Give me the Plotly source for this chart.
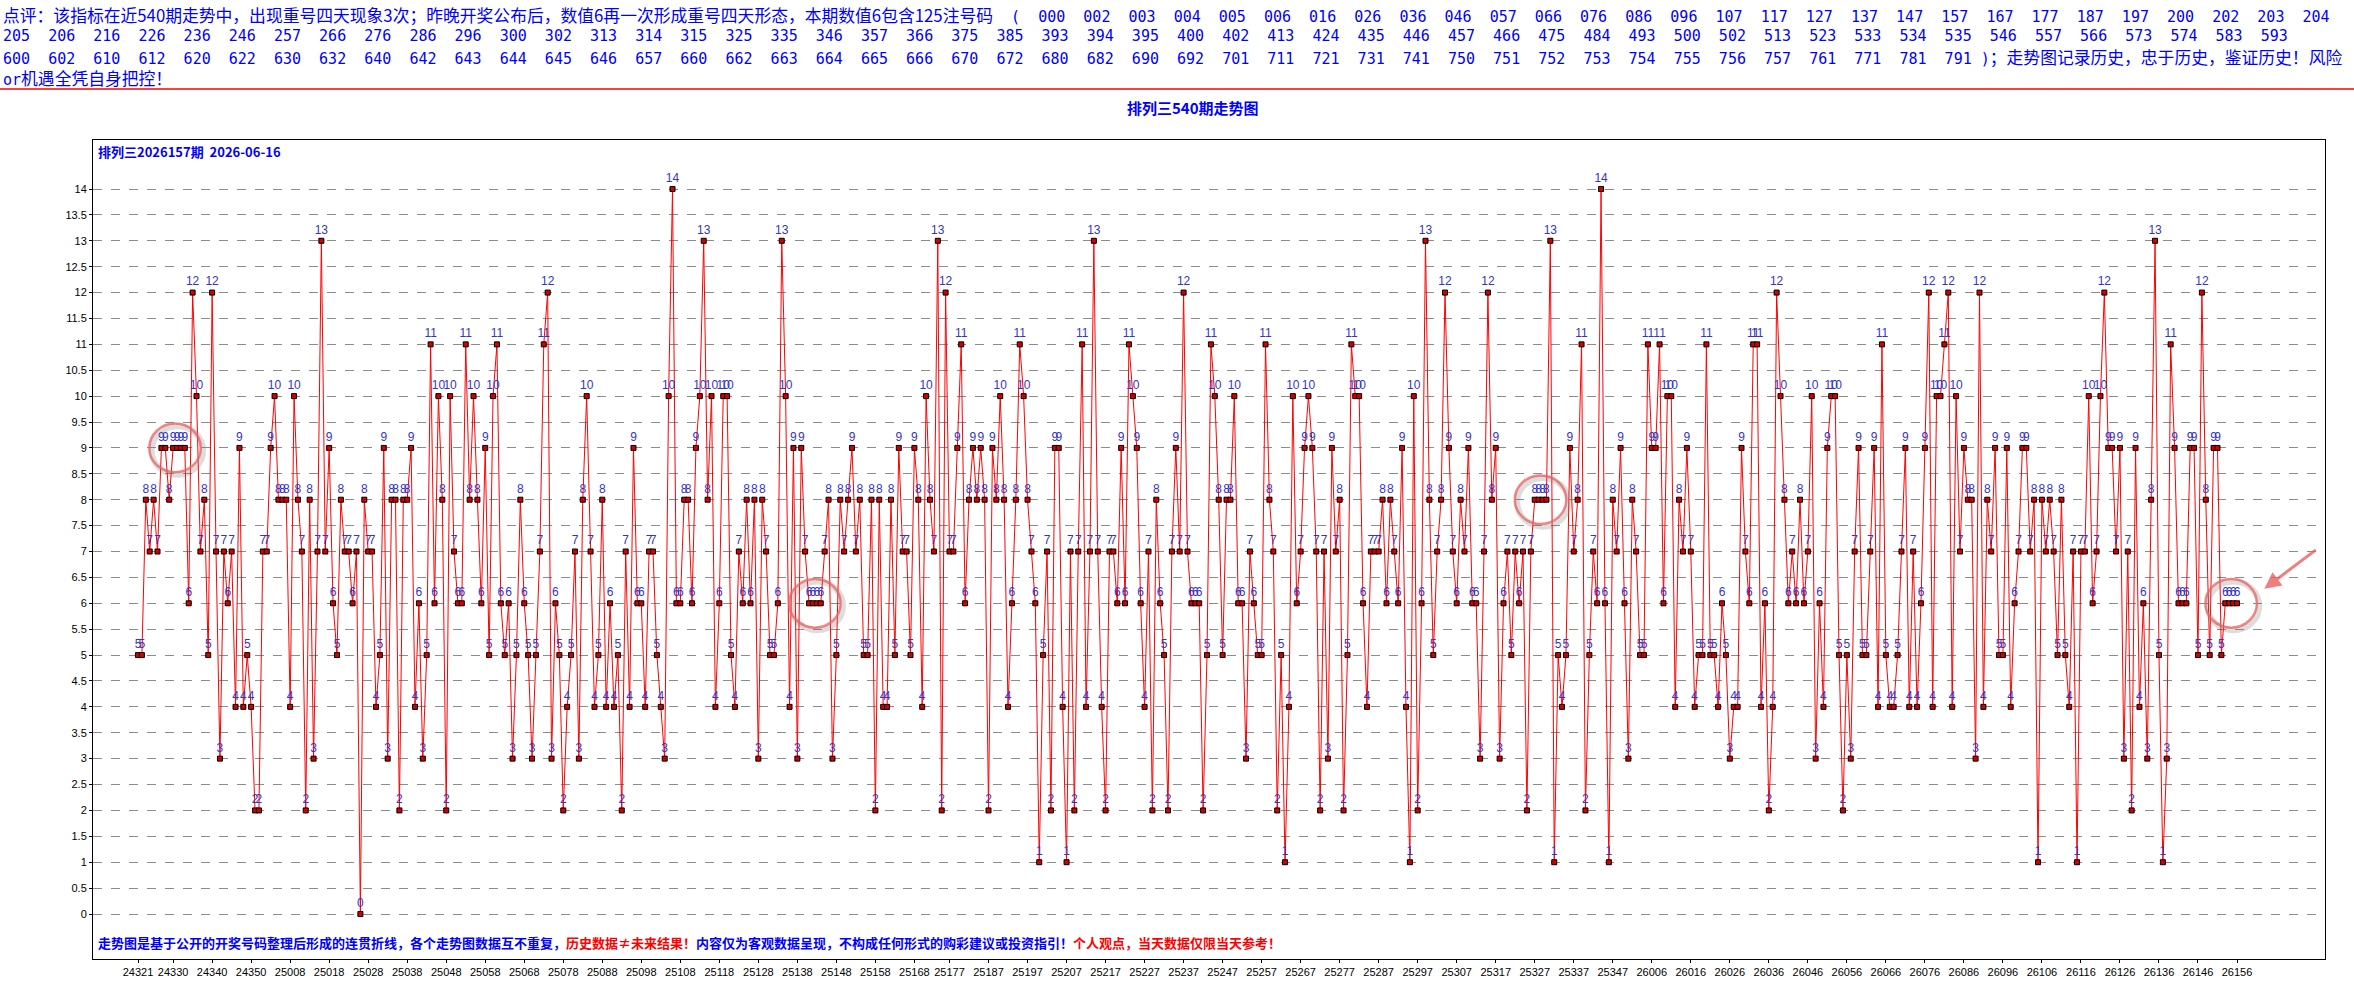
import plotly.graph_objects as go

# ---------------- data ----------------
values = [
    5, 5, 8, 7, 8, 7, 9, 9, 8, 9, 9, 9, 9, 6, 12, 10, 7, 8, 5, 12, 7, 3, 7, 6, 7, 4, 9, 4, 5, 4, 2, 2, 7, 7, 9, 10, 8, 8, 8, 4, 10, 8, 7, 2, 8, 3, 7, 13, 7, 9, 6, 5,
    8, 7, 7, 6, 7, 0, 8, 7, 7, 4, 5, 9, 3, 8, 8, 2, 8, 8, 9, 4, 6, 3, 5, 11, 6, 10, 8, 2, 10, 7, 6, 6, 11, 8, 10, 8, 6, 9, 5, 10, 11, 6, 5, 6, 3, 5, 8, 6, 5, 3, 5,
    7, 11, 12, 3, 6, 5, 2, 4, 5, 7, 3, 8, 10, 7, 4, 5, 8, 4, 6, 4, 5, 2, 7, 4, 9, 6, 6, 4, 7, 7, 5, 4, 3, 10, 14, 6, 6, 8, 8, 6, 9, 10, 13, 8, 10, 4, 6, 10, 10, 5, 4, 7,
    6, 8, 6, 8, 3, 8, 7, 5, 5, 6, 13, 10, 4, 9, 3, 9, 7, 6, 6, 6, 6, 7, 8, 3, 5, 8, 7, 8, 9, 7, 8, 5, 5, 8, 2, 8, 4, 4, 8, 5, 9, 7, 7, 5, 9, 8, 4, 10, 8, 7, 13,
    2, 12, 7, 7, 9, 11, 6, 8, 9, 8, 9, 8, 2, 9, 8, 10, 8, 4, 6, 8, 11, 10, 8, 7, 6, 1, 5, 7, 2, 9, 9, 4, 1, 7, 2, 7, 11, 4, 7, 13, 7, 4, 2, 7, 7, 6, 9, 6, 11, 10, 9, 6,
    4, 7, 2, 8, 6, 5, 2, 7, 9, 7, 12, 7, 6, 6, 6, 2, 5, 11, 10, 8, 5, 8, 8, 10, 6, 6, 3, 7, 6, 5, 5, 11, 8, 7, 2, 5, 1, 4, 10, 6, 7, 9, 10, 9, 7, 2, 7, 3, 9, 7, 8,
    2, 5, 11, 10, 10, 6, 4, 7, 7, 7, 8, 6, 8, 7, 6, 9, 4, 1, 10, 2, 6, 13, 8, 5, 7, 8, 12, 9, 7, 6, 8, 7, 9, 6, 6, 3, 7, 12, 8, 9, 3, 6, 7, 5, 7, 6, 7, 2, 7, 8, 8,
    8, 8, 13, 1, 5, 4, 5, 9, 7, 8, 11, 2, 5, 7, 6, 14, 6, 1, 8, 7, 9, 6, 3, 8, 7, 5, 5, 11, 9, 9, 11, 6, 10, 10, 4, 8, 7, 9, 7, 4, 5, 5, 11, 5, 5, 4, 6, 5, 3, 4, 4,
    9, 7, 6, 11, 11, 4, 6, 2, 4, 12, 10, 8, 6, 7, 6, 8, 6, 7, 10, 3, 6, 4, 9, 10, 10, 5, 2, 5, 3, 7, 9, 5, 5, 7, 9, 4, 11, 5, 4, 4, 5, 7, 9, 4, 7, 4, 6, 9, 12, 4, 10,
    10, 11, 12, 4, 10, 7, 9, 8, 8, 3, 12, 4, 8, 7, 9, 5, 5, 9, 4, 6, 7, 9, 9, 7, 8, 1, 8, 7, 8, 7, 5, 8, 5, 4, 7, 1, 7, 7, 10, 6, 7, 10, 12, 9, 9, 7, 9, 3, 7, 2, 9, 4,
    6, 3, 8, 13, 5, 1, 3, 11, 9, 6, 6, 6, 9, 9, 5, 12, 8, 5, 9, 9, 5, 6, 6, 6, 6,
]

tick_labels = [
    "24321", "24330", "24340", "24350", "25008", "25018", "25028", "25038", "25048", "25058",
    "25068", "25078", "25088", "25098", "25108", "25118", "25128", "25138", "25148", "25158",
    "25168", "25177", "25187", "25197", "25207", "25217", "25227", "25237", "25247", "25257",
    "25267", "25277", "25287", "25297", "25307", "25317", "25327", "25337", "25347", "26006",
    "26016", "26026", "26036", "26046", "26056", "26066", "26076", "26086", "26096", "26106",
    "26116", "26126", "26136", "26146", "26156",
]
# labels sit on every ~10th draw; one 9-draw gap between 25168 and 25177, last label on the last draw
tick_index = [0] + [9 + 10 * (k - 1) for k in range(1, 21)] + [10 * k - 2 for k in range(21, len(tick_labels))]

y_ticks = [i * 0.5 for i in range(29)]
y_tick_text = [("%g" % v) for v in y_ticks]

# highlighted runs of four equal values (centre index, value)
runs = [(9.5, 9), (173.5, 6), (359.5, 8), (len(values) - 2.5, 6)]

header_prefix = "点评：该指标在近540期走势中，出现重号四天现象3次；昨晚开奖公布后，数值6再一次形成重号四天形态，本期数值6包含125注号码"
codes1 = ["000", "002", "003", "004", "005", "006", "016", "026", "036", "046", "057", "066", "076", "086", "096",
          "107", "117", "127", "137", "147", "157", "167", "177", "187", "197", "200", "202", "203", "204"]
codes2 = ["205", "206", "216", "226", "236", "246", "257", "266", "276", "286", "296", "300", "302", "313", "314",
          "315", "325", "335", "346", "357", "366", "375", "385", "393", "394", "395", "400", "402", "413", "424",
          "435", "446", "457", "466", "475", "484", "493", "500", "502", "513", "523", "533", "534", "535", "546",
          "557", "566", "573", "574", "583", "593"]
codes3 = ["600", "602", "610", "612", "620", "622", "630", "632", "640", "642", "643", "644", "645", "646", "657",
          "660", "662", "663", "664", "665", "666", "670", "672", "680", "682", "690", "692", "701", "711", "721",
          "731", "741", "750", "751", "752", "753", "754", "755", "756", "757", "761", "771", "781", "791"]
line3_tail = "；走势图记录历史，忠于历史，鉴证历史！风险"
line4 = "or机遇全凭自身把控！"

title = "排列三540期走势图"
inner_label = "排列三2026157期\u00a0\u00a02026-06-16"
foot_parts = [
    ("走势图是基于公开的开奖号码整理后形成的连贯折线，各个走势图数据互不重复，", "#0000FF"),
    ("历史数据≠未来结果！", "#FF0000"),
    ("内容仅为客观数据呈现，不构成任何形式的购彩建议或投资指引！", "#0000FF"),
    ("个人观点，当天数据仅限当天参考！", "#FF0000"),
]

# ---------------- layout geometry (pixels) ----------------
W, H = 2354, 1004
L, R, T, B = 93, 2325, 140, 959
n = len(values)
first_px, last_px = 138, 2237
step = (last_px - first_px) / float(n - 1)
x_range = [-(first_px - L) / step, (n - 1) + (R - last_px) / step]
y0_px, y14_px = 914, 189
unit = (y0_px - y14_px) / 14.0
y_range = [-(B - y0_px) / unit, 14 + (y14_px - T) / unit]


def px(x):
    return (x - L) / (R - L)


def py(y):
    return (B - y) / (B - T)


NB = "\u00a0"
MONO = "DejaVu Sans Mono"
CJK = "Noto Sans CJK SC"


def mono(s, size=15.0):
    return '<span style="font-family:%s;font-size:%.1fpx">%s</span>' % (MONO, size, s.replace(" ", NB))


def cjk(s, size=16.8):
    return '<span style="font-family:%s;font-size:%.1fpx">%s</span>' % (CJK, size, s)


fig = go.Figure()
fig.add_trace(go.Scatter(
    x=list(range(n)), y=values,
    mode="lines+markers+text",
    text=[str(v) for v in values],
    textposition="top center",
    textfont=dict(family="Liberation Sans, Arial", size=12, color="#3434C8"),
    line=dict(color="#FF0000", width=1),
    marker=dict(symbol="square", size=5, color="#D00000", line=dict(color="#000000", width=1)),
    cliponaxis=False,
    hoverinfo="skip",
    showlegend=False,
))

shapes = []
for cx, cv in runs:
    rx, ry = 6.6, 0.47
    shapes.append(dict(type="circle", xref="x", yref="y", x0=cx - rx + 0.6, x1=cx + rx + 0.6,
                       y0=cv - ry - 0.05, y1=cv + ry - 0.05,
                       line=dict(color="rgba(120,120,120,0.25)", width=6), layer="above"))
    shapes.append(dict(type="circle", xref="x", yref="y", x0=cx - rx, x1=cx + rx,
                       y0=cv - ry, y1=cv + ry,
                       line=dict(color="rgba(236,96,96,0.75)", width=2.5), layer="above"))
# red separator line under header
shapes.append(dict(type="line", xref="paper", yref="paper", x0=px(0), x1=px(W), y0=py(89), y1=py(89),
                   line=dict(color="#FF0000", width=1.5)))

ann = []
hdr_color = "#0000FF"
line1 = cjk(header_prefix) + mono("  (  " + "  ".join(codes1))
line2 = mono("  ".join(codes2))
line3 = mono("  ".join(codes3) + " )") + cjk(line3_tail)
line4t = mono("or") + cjk(line4[2:])
for i, t in enumerate([line1, line2, line3, line4t]):
    ann.append(dict(text=t, xref="paper", yref="paper", x=px(1), y=py(15 + 21 * i),
                    xanchor="left", yanchor="middle", showarrow=False,
                    font=dict(color=hdr_color, size=16, family=CJK)))

ann.append(dict(text="<b>%s</b>" % title, xref="paper", yref="paper", x=px(1193), y=py(108),
                xanchor="center", yanchor="middle", showarrow=False,
                font=dict(color="#0000FF", size=15, family=CJK)))
ann.append(dict(text="<b>%s</b>" % inner_label, xref="paper", yref="paper", x=px(96), y=py(152),
                xanchor="left", yanchor="middle", showarrow=False,
                font=dict(color="#0000FF", size=13, family=CJK)))
foot = "".join('<span style="color:%s">%s</span>' % (c, s) for s, c in foot_parts)
ann.append(dict(text="<b>%s</b>" % foot, xref="paper", yref="paper", x=px(96), y=py(942),
                xanchor="left", yanchor="middle", showarrow=False,
                font=dict(color="#0000FF", size=13, family=CJK)))
# arrow pointing at latest run
ax_i, ax_v = runs[-1][0] + 8.5, runs[-1][1] + 0.28
ann.append(dict(text="", x=ax_i, y=ax_v, xref="x", yref="y", showarrow=True,
                ax=53, ay=-40, arrowhead=2, arrowsize=1.1, arrowwidth=3,
                arrowcolor="rgba(236,96,96,0.8)"))

fig.update_layout(
    width=W, height=H,
    margin=dict(l=L, r=W - R, t=T, b=H - B),
    paper_bgcolor="white", plot_bgcolor="white",
    shapes=shapes, annotations=ann,
    xaxis=dict(range=x_range, tickmode="array", tickvals=tick_index, ticktext=tick_labels,
               tickangle=0, automargin=False,
               showgrid=False, zeroline=False, showline=True, mirror=True, linecolor="#000000",
               linewidth=1, ticks="outside", ticklen=3, tickcolor="#000000",
               tickfont=dict(family="Liberation Sans, Arial", size=11, color="#000000")),
    yaxis=dict(range=y_range, tickmode="array", tickvals=y_ticks, ticktext=y_tick_text,
               automargin=False,
               showgrid=True, gridcolor="#8C8C8C", griddash="dash", gridwidth=1,
               zeroline=False, showline=True, mirror=True, linecolor="#000000", linewidth=1,
               ticks="outside", ticklen=3, tickcolor="#000000",
               tickfont=dict(family="Liberation Sans, Arial", size=11, color="#000000")),
    font=dict(family=CJK),
)

fig.write_html("out.html")
